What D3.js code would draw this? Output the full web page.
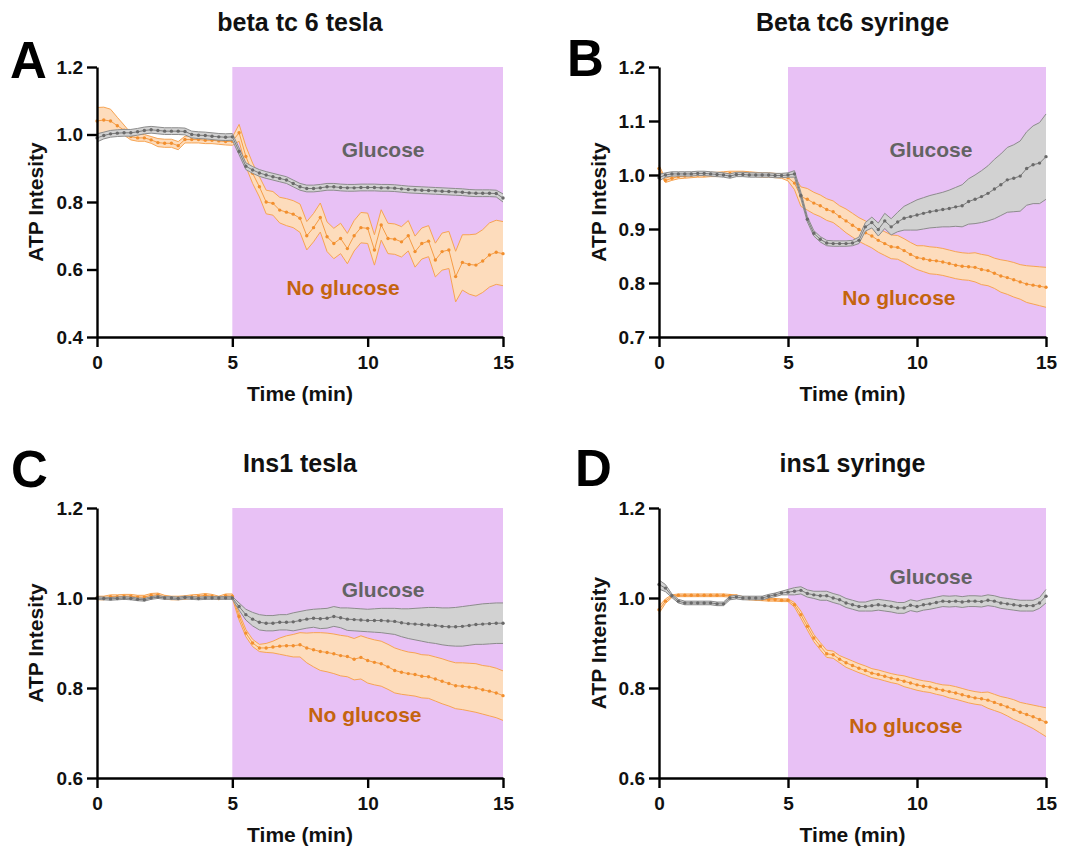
<!DOCTYPE html>
<html>
<head>
<meta charset="utf-8">
<script src="https://cdn.jsdelivr.net/npm/d3@7"></script>
<style>
  body { margin: 0; background: #fff; }
  svg { display: block; }
  text { font-family: "Liberation Sans", Arial, sans-serif; font-weight: bold; }
</style>
</head>
<body>
<svg></svg>
<script>
// time points (min)
const time = [
  0, 0.25, 0.5, 0.75, 1, 1.25, 1.5, 1.75, 2, 2.25,
  2.5, 2.75, 3, 3.25, 3.5, 3.75, 4, 4.25, 4.5, 4.75,
  5, 5.25, 5.5, 5.75, 6, 6.25, 6.5, 6.75, 7, 7.25,
  7.5, 7.75, 8, 8.25, 8.5, 8.75, 9, 9.25, 9.5, 9.75,
  10, 10.25, 10.5, 10.75, 11, 11.25, 11.5, 11.75, 12, 12.25,
  12.5, 12.75, 13, 13.25, 13.5, 13.75, 14, 14.25, 14.5, 14.75,
  15,
];

const xTicks = [0, 5, 10, 15];
const yTicksA = [0.4, 0.6, 0.8, 1.0, 1.2];
const yTicksB = [0.7, 0.8, 0.9, 1.0, 1.1, 1.2];
const yTicksC = [0.6, 0.8, 1.0, 1.2];
const yTicksD = [0.6, 0.8, 1.0, 1.2];

const titles = ["beta tc 6 tesla", "Beta tc6 syringe", "Ins1 tesla", "ins1 syringe"];
const letters = ["A", "B", "C", "D"];
const yLabels = ["ATP Intesity", "ATP Intesity", "ATP Intesity", "ATP Intensity"];
const seriesNames = ["Glucose", "No glucose"];

// A: beta tc 6 tesla
const aGlu = [
  0.990, 0.997, 1.002, 1.004, 1.005, 1.005, 1.008, 1.012, 1.014, 1.012,
  1.010, 1.010, 1.010, 1.009, 1.000, 0.998, 0.997, 0.995, 0.993, 0.992,
  0.993, 0.950, 0.906, 0.895, 0.886, 0.880, 0.875, 0.870, 0.865, 0.855,
  0.845, 0.840, 0.840, 0.842, 0.845, 0.845, 0.843, 0.842, 0.842, 0.843,
  0.843, 0.843, 0.842, 0.842, 0.841, 0.839, 0.837, 0.836, 0.835, 0.834,
  0.833, 0.832, 0.831, 0.830, 0.829, 0.827, 0.826, 0.826, 0.826, 0.825,
  0.812,
];
const aGluErr = [
  0.012, 0.010, 0.010, 0.010, 0.010, 0.010, 0.010, 0.010, 0.010, 0.010,
  0.010, 0.010, 0.010, 0.010, 0.010, 0.010, 0.010, 0.010, 0.010, 0.010,
  0.010, 0.010, 0.010, 0.010, 0.010, 0.010, 0.010, 0.010, 0.010, 0.010,
  0.010, 0.010, 0.010, 0.010, 0.010, 0.010, 0.010, 0.010, 0.010, 0.010,
  0.010, 0.010, 0.010, 0.010, 0.010, 0.010, 0.010, 0.010, 0.010, 0.010,
  0.010, 0.010, 0.010, 0.010, 0.010, 0.010, 0.010, 0.010, 0.010, 0.010,
  0.012,
];
const aNoGlu = [
  1.040, 1.043, 1.040, 1.026, 1.013, 0.994, 0.990, 0.990, 0.984, 0.976,
  0.974, 0.974, 0.967, 0.985, 0.985, 0.985, 0.983, 0.983, 0.981, 0.979,
  0.980, 1.005, 0.935, 0.885, 0.845, 0.800, 0.796, 0.776, 0.770, 0.764,
  0.752, 0.700, 0.724, 0.754, 0.697, 0.677, 0.692, 0.662, 0.700, 0.724,
  0.722, 0.658, 0.732, 0.692, 0.690, 0.682, 0.700, 0.653, 0.677, 0.684,
  0.628, 0.653, 0.658, 0.579, 0.621, 0.615, 0.613, 0.625, 0.643, 0.651,
  0.647,
];
const aNoGluErr = [
  0.040, 0.038, 0.035, 0.025, 0.015, 0.010, 0.010, 0.010, 0.010, 0.012,
  0.012, 0.012, 0.012, 0.010, 0.010, 0.010, 0.010, 0.010, 0.010, 0.010,
  0.012, 0.025, 0.030, 0.030, 0.030, 0.035, 0.035, 0.038, 0.040, 0.040,
  0.042, 0.042, 0.042, 0.043, 0.044, 0.045, 0.045, 0.045, 0.045, 0.045,
  0.045, 0.045, 0.045, 0.045, 0.045, 0.045, 0.045, 0.046, 0.046, 0.046,
  0.050, 0.055, 0.055, 0.075, 0.082, 0.088, 0.092, 0.093, 0.095, 0.095,
  0.095,
];

// B: Beta tc6 syringe
const bGlu = [
  0.995, 1.000, 1.002, 1.002, 1.002, 1.002, 1.003, 1.003, 1.002, 1.001,
  1.000, 0.998, 1.001, 1.001, 1.000, 1.000, 1.000, 1.000, 0.999, 0.999,
  1.000, 1.002, 0.962, 0.918, 0.892, 0.881, 0.874, 0.873, 0.873, 0.873,
  0.874, 0.879, 0.904, 0.912, 0.899, 0.915, 0.904, 0.913, 0.920, 0.923,
  0.926, 0.929, 0.932, 0.934, 0.936, 0.938, 0.941, 0.943, 0.951, 0.955,
  0.960, 0.966, 0.974, 0.982, 0.991, 0.994, 0.998, 1.012, 1.019, 1.022,
  1.034,
];
const bGluErr = [
  0.006, 0.004, 0.004, 0.004, 0.004, 0.004, 0.004, 0.004, 0.004, 0.004,
  0.004, 0.004, 0.004, 0.004, 0.004, 0.004, 0.004, 0.004, 0.004, 0.004,
  0.004, 0.006, 0.006, 0.005, 0.005, 0.005, 0.005, 0.005, 0.005, 0.005,
  0.005, 0.006, 0.008, 0.010, 0.012, 0.014, 0.015, 0.018, 0.022, 0.025,
  0.028, 0.029, 0.030, 0.031, 0.032, 0.034, 0.036, 0.039, 0.042, 0.045,
  0.048, 0.051, 0.055, 0.057, 0.060, 0.062, 0.065, 0.068, 0.072, 0.075,
  0.079,
];
const bNoGlu = [
  1.012, 0.990, 0.994, 0.997, 0.998, 0.999, 1.000, 1.000, 1.001, 1.001,
  1.002, 1.003, 1.003, 1.003, 1.002, 1.001, 1.000, 1.000, 0.999, 0.998,
  0.995, 0.985, 0.960, 0.955, 0.948, 0.943, 0.936, 0.932, 0.923, 0.915,
  0.907, 0.899, 0.893, 0.887, 0.879, 0.873, 0.867, 0.866, 0.860, 0.853,
  0.847, 0.845, 0.842, 0.841, 0.839, 0.836, 0.833, 0.831, 0.830, 0.829,
  0.825, 0.823, 0.818, 0.813, 0.810, 0.806, 0.802, 0.798, 0.796, 0.794,
  0.792,
];
const bNoGluErr = [
  0.006, 0.004, 0.004, 0.004, 0.004, 0.004, 0.004, 0.004, 0.004, 0.004,
  0.004, 0.004, 0.004, 0.004, 0.004, 0.004, 0.004, 0.004, 0.004, 0.004,
  0.006, 0.012, 0.018, 0.020, 0.020, 0.020, 0.020, 0.020, 0.020, 0.022,
  0.022, 0.022, 0.022, 0.022, 0.022, 0.022, 0.022, 0.022, 0.022, 0.022,
  0.022, 0.024, 0.025, 0.025, 0.025, 0.025, 0.025, 0.025, 0.025, 0.027,
  0.028, 0.028, 0.028, 0.030, 0.031, 0.032, 0.032, 0.034, 0.035, 0.036,
  0.037,
];

// C: Ins1 tesla
const cGlu = [
  1.000, 0.999, 0.998, 0.999, 1.000, 0.999, 0.997, 0.996, 1.000, 1.002,
  1.000, 1.000, 0.999, 1.001, 1.000, 0.999, 1.000, 1.000, 1.000, 1.000,
  1.000, 0.981, 0.963, 0.953, 0.946, 0.944, 0.944, 0.946, 0.946, 0.947,
  0.950, 0.953, 0.955, 0.954, 0.955, 0.959, 0.956, 0.953, 0.952, 0.951,
  0.950, 0.950, 0.950, 0.949, 0.948, 0.945, 0.943, 0.942, 0.941, 0.940,
  0.939, 0.937, 0.936, 0.936, 0.937, 0.939, 0.941, 0.942, 0.943, 0.944,
  0.944,
];
const cGluErr = [
  0.003, 0.003, 0.003, 0.003, 0.003, 0.003, 0.003, 0.003, 0.003, 0.003,
  0.003, 0.003, 0.003, 0.003, 0.003, 0.003, 0.003, 0.003, 0.003, 0.003,
  0.003, 0.008, 0.012, 0.015, 0.017, 0.017, 0.017, 0.017, 0.017, 0.020,
  0.020, 0.020, 0.020, 0.022, 0.022, 0.022, 0.022, 0.025, 0.025, 0.025,
  0.025, 0.026, 0.027, 0.028, 0.029, 0.031, 0.033, 0.035, 0.037, 0.039,
  0.040, 0.041, 0.042, 0.043, 0.044, 0.044, 0.044, 0.045, 0.045, 0.045,
  0.045,
];
const cNoGlu = [
  1.000, 1.000, 1.003, 1.003, 1.004, 1.004, 1.002, 1.002, 1.006, 1.007,
  1.002, 1.000, 1.000, 1.001, 1.003, 1.004, 1.006, 1.004, 1.000, 1.005,
  1.004, 0.959, 0.922, 0.900, 0.889, 0.889, 0.891, 0.893, 0.894, 0.894,
  0.896, 0.889, 0.885, 0.881, 0.879, 0.876, 0.872, 0.870, 0.864, 0.868,
  0.861, 0.857, 0.854, 0.847, 0.839, 0.835, 0.832, 0.830, 0.826, 0.825,
  0.820, 0.815, 0.810, 0.805, 0.804, 0.802, 0.800, 0.796, 0.793, 0.789,
  0.783,
];
const cNoGluErr = [
  0.004, 0.004, 0.004, 0.004, 0.004, 0.004, 0.004, 0.004, 0.004, 0.004,
  0.004, 0.004, 0.004, 0.004, 0.004, 0.004, 0.004, 0.004, 0.004, 0.004,
  0.005, 0.008, 0.008, 0.008, 0.008, 0.010, 0.013, 0.018, 0.022, 0.025,
  0.027, 0.033, 0.038, 0.042, 0.043, 0.044, 0.045, 0.045, 0.046, 0.048,
  0.050, 0.050, 0.050, 0.050, 0.050, 0.049, 0.048, 0.048, 0.048, 0.048,
  0.049, 0.050, 0.050, 0.051, 0.052, 0.053, 0.054, 0.054, 0.055, 0.055,
  0.055,
];

// D: ins1 syringe
const dGlu = [
  1.030, 1.022, 1.005, 0.993, 0.989, 0.989, 0.989, 0.989, 0.989, 0.987,
  0.987, 1.000, 1.002, 1.000, 1.000, 1.000, 1.000, 1.004, 1.007, 1.011,
  1.013, 1.015, 1.017, 1.010, 1.007, 1.005, 1.005, 1.000, 0.996, 0.989,
  0.985, 0.981, 0.981, 0.983, 0.985, 0.983, 0.981, 0.978, 0.978, 0.984,
  0.981, 0.985, 0.987, 0.990, 0.993, 0.992, 0.993, 0.991, 0.993, 0.993,
  0.992, 0.995, 0.993, 0.989, 0.987, 0.985, 0.983, 0.983, 0.983, 0.989,
  1.004,
];
const dGluErr = [
  0.010, 0.008, 0.004, 0.004, 0.004, 0.004, 0.004, 0.004, 0.004, 0.004,
  0.004, 0.004, 0.004, 0.004, 0.004, 0.004, 0.004, 0.004, 0.004, 0.004,
  0.006, 0.008, 0.008, 0.008, 0.008, 0.010, 0.010, 0.010, 0.010, 0.010,
  0.010, 0.010, 0.010, 0.012, 0.012, 0.012, 0.012, 0.012, 0.012, 0.012,
  0.012, 0.012, 0.012, 0.012, 0.012, 0.012, 0.012, 0.012, 0.012, 0.012,
  0.012, 0.012, 0.012, 0.012, 0.012, 0.012, 0.012, 0.012, 0.012, 0.012,
  0.015,
];
const dNoGlu = [
  0.974, 0.993, 1.004, 1.006, 1.006, 1.006, 1.006, 1.006, 1.006, 1.006,
  1.006, 1.005, 1.004, 1.000, 0.999, 0.998, 0.997, 0.996, 0.996, 0.995,
  0.995, 0.985, 0.963, 0.937, 0.911, 0.893, 0.876, 0.874, 0.864, 0.856,
  0.850, 0.844, 0.839, 0.833, 0.830, 0.826, 0.822, 0.819, 0.815, 0.811,
  0.807, 0.804, 0.802, 0.798, 0.795, 0.792, 0.789, 0.785, 0.781, 0.778,
  0.776, 0.773, 0.768, 0.763, 0.758, 0.752, 0.746, 0.741, 0.736, 0.730,
  0.724,
];
const dNoGluErr = [
  0.008, 0.005, 0.003, 0.003, 0.003, 0.003, 0.003, 0.003, 0.003, 0.003,
  0.003, 0.003, 0.003, 0.003, 0.003, 0.003, 0.003, 0.003, 0.003, 0.003,
  0.003, 0.005, 0.008, 0.008, 0.008, 0.008, 0.008, 0.008, 0.008, 0.010,
  0.010, 0.010, 0.010, 0.010, 0.010, 0.010, 0.010, 0.010, 0.012, 0.012,
  0.012, 0.012, 0.012, 0.012, 0.012, 0.014, 0.014, 0.014, 0.014, 0.014,
  0.014, 0.018, 0.018, 0.018, 0.020, 0.022, 0.022, 0.024, 0.026, 0.029,
  0.032,
];

const svg = d3.select("svg");
svg.attr("width", 1086).attr("height", 850);

const colors = {
  shade: "#e8c1f5",
  gluFill: "#d2d2d2",
  gluEdge: "#8c8c8c",
  gluLine: "#7c7c7c",
  gluDot: "#6a6a6a",
  gluText: "#636363",
  noFill: "#fddcbc",
  noEdge: "#f7a452",
  noLine: "#f59c45",
  noDot: "#f28f2e",
  noText: "#c4640f",
};

const panels = [
  {
    letter: letters[0], title: titles[0], yLabel: yLabels[0], yTicks: yTicksA,
    glu: aGlu, gluErr: aGluErr, no: aNoGlu, noErr: aNoGluErr,
    left: 97, right: 503, top: 67, bottom: 337,
    letterPos: [10, 78], titleY: 31, yLabelX: 43,
    gluText: [10.57, 0.933], noText: [9.09, 0.524],
  },
  {
    letter: letters[1], title: titles[1], yLabel: yLabels[1], yTicks: yTicksB,
    glu: bGlu, gluErr: bGluErr, no: bNoGlu, noErr: bNoGluErr,
    left: 659, right: 1046, top: 67, bottom: 337,
    letterPos: [567, 76], titleY: 31, yLabelX: 606,
    gluText: [10.54, 1.033], noText: [9.3, 0.759],
  },
  {
    letter: letters[2], title: titles[2], yLabel: yLabels[2], yTicks: yTicksC,
    glu: cGlu, gluErr: cGluErr, no: cNoGlu, noErr: cNoGluErr,
    left: 97, right: 503, top: 508, bottom: 778,
    letterPos: [11, 487], titleY: 472, yLabelX: 43,
    gluText: [10.57, 1.003], noText: [9.9, 0.725],
  },
  {
    letter: letters[3], title: titles[3], yLabel: yLabels[3], yTicks: yTicksD,
    glu: dGlu, gluErr: dGluErr, no: dNoGlu, noErr: dNoGluErr,
    left: 659, right: 1046, top: 508, bottom: 778,
    letterPos: [575, 486], titleY: 472, yLabelX: 606,
    gluText: [10.54, 1.032], noText: [9.57, 0.701],
  },
];

const drawSeries = (g, xScale, yScale, mean, err, fill, edge, line, dot) => {
  const rows = time.map((t, i) => ({ t: t, m: mean[i], e: err[i] }));

  const band = d3.area()
    .x((d) => xScale(d.t))
    .y0((d) => yScale(d.m - d.e))
    .y1((d) => yScale(d.m + d.e));
  g.append("path").datum(rows)
    .attr("d", band)
    .attr("fill", fill);

  const upper = d3.line().x((d) => xScale(d.t)).y((d) => yScale(d.m + d.e));
  const lower = d3.line().x((d) => xScale(d.t)).y((d) => yScale(d.m - d.e));
  [upper, lower].forEach((gen) => {
    g.append("path").datum(rows)
      .attr("d", gen)
      .attr("fill", "none")
      .attr("stroke", edge)
      .attr("stroke-width", 1);
  });

  const meanLine = d3.line().x((d) => xScale(d.t)).y((d) => yScale(d.m));
  g.append("path").datum(rows)
    .attr("d", meanLine)
    .attr("fill", "none")
    .attr("stroke", line)
    .attr("stroke-width", 1);

  g.append("g").selectAll("circle")
    .data(rows)
    .enter()
    .append("circle")
    .attr("cx", (d) => xScale(d.t))
    .attr("cy", (d) => yScale(d.m))
    .attr("r", 1.7)
    .attr("fill", dot);
};

const render = (p) => {
  const width = p.right - p.left;
  const height = p.bottom - p.top;
  const yMin = p.yTicks[0];
  const yMax = p.yTicks[p.yTicks.length - 1];

  const xScale = d3.scaleLinear().domain([0, 15]).range([0, width]);
  const yScale = d3.scaleLinear().domain([yMin, yMax]).range([height, 0]);

  const g = svg.append("g")
    .attr("transform", `translate(${p.left}, ${p.top})`);

  // stimulus window (5-15 min)
  g.append("rect")
    .attr("x", xScale(5))
    .attr("y", yScale(yMax))
    .attr("width", xScale(15) - xScale(5))
    .attr("height", yScale(yMin) - yScale(yMax))
    .attr("fill", colors.shade);

  drawSeries(g, xScale, yScale, p.no, p.noErr,
    colors.noFill, colors.noEdge, colors.noLine, colors.noDot);
  drawSeries(g, xScale, yScale, p.glu, p.gluErr,
    colors.gluFill, colors.gluEdge, colors.gluLine, colors.gluDot);

  const xAxis = d3.axisBottom(xScale)
    .tickValues(xTicks)
    .tickSize(10)
    .tickSizeOuter(0)
    .tickPadding(9)
    .tickFormat(d3.format("d"));
  const yAxis = d3.axisLeft(yScale)
    .tickValues(p.yTicks)
    .tickSize(10)
    .tickSizeOuter(0)
    .tickPadding(4)
    .tickFormat(d3.format(".1f"));

  [
    g.append("g").attr("transform", `translate(0, ${height})`).call(xAxis),
    g.append("g").call(yAxis),
  ].forEach((axisG) => {
    axisG.selectAll(".domain")
      .attr("stroke", "#000")
      .attr("stroke-width", 2.4);
    axisG.selectAll(".tick line")
      .attr("stroke", "#000")
      .attr("stroke-width", 2.4);
    axisG.selectAll(".tick text")
      .attr("fill", "#111")
      .attr("font-size", 19)
      .attr("font-family", "Liberation Sans, Arial, sans-serif")
      .attr("font-weight", "bold");
  });

  g.append("text")
    .attr("x", width / 2)
    .attr("y", height + 64)
    .attr("text-anchor", "middle")
    .attr("font-size", 21)
    .attr("fill", "#111")
    .text("Time (min)");

  g.append("text")
    .attr("transform", `translate(${p.yLabelX - p.left}, ${height / 2}) rotate(-90)`)
    .attr("text-anchor", "middle")
    .attr("font-size", 21)
    .attr("fill", "#111")
    .text(p.yLabel);

  g.append("text")
    .attr("x", width / 2)
    .attr("y", p.titleY - p.top)
    .attr("text-anchor", "middle")
    .attr("font-size", 25)
    .attr("fill", "#111")
    .text(p.title);

  g.append("text")
    .attr("x", xScale(p.gluText[0]))
    .attr("y", yScale(p.gluText[1]))
    .attr("text-anchor", "middle")
    .attr("font-size", 21)
    .attr("fill", colors.gluText)
    .text(seriesNames[0]);

  g.append("text")
    .attr("x", xScale(p.noText[0]))
    .attr("y", yScale(p.noText[1]))
    .attr("text-anchor", "middle")
    .attr("font-size", 21)
    .attr("fill", colors.noText)
    .text(seriesNames[1]);

  svg.append("text")
    .attr("x", p.letterPos[0])
    .attr("y", p.letterPos[1])
    .attr("font-size", 51)
    .attr("fill", "#000")
    .text(p.letter);
};

panels.forEach(render);
</script>
</body>
</html>
